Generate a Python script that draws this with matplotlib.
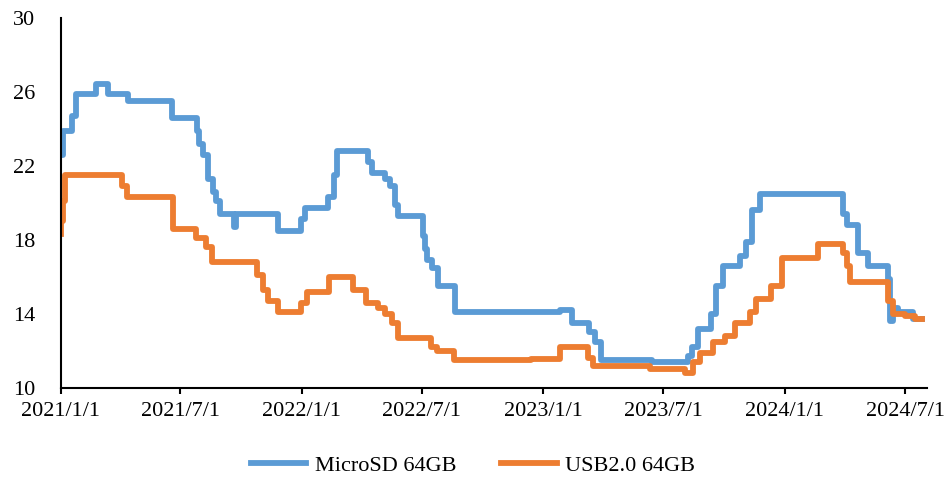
import matplotlib
matplotlib.use("Agg")
import matplotlib.pyplot as plt
import matplotlib.dates as mdates
import pandas as pd

plt.rcParams['font.family'] = ['Liberation Serif', 'DejaVu Serif']

# price change points (step series, value holds until next date)
microsd_dates = [
    "2021-01-01", "2021-01-04", "2021-01-18", "2021-01-24", "2021-02-24", "2021-03-14",
    "2021-04-13", "2021-06-19", "2021-07-26", "2021-07-29", "2021-08-04", "2021-08-12",
    "2021-08-20", "2021-08-24", "2021-08-30", "2021-09-20", "2021-09-23", "2021-11-26",
    "2021-12-31", "2022-01-06", "2022-02-09", "2022-02-19", "2022-02-23", "2022-04-11",
    "2022-04-17", "2022-05-07", "2022-05-14", "2022-05-22", "2022-05-26", "2022-07-03",
    "2022-07-06", "2022-07-09", "2022-07-17", "2022-07-26", "2022-08-20", "2023-01-26",
    "2023-02-13", "2023-03-11", "2023-03-20", "2023-03-29", "2023-06-14", "2023-08-08",
    "2023-08-14", "2023-08-23", "2023-09-12", "2023-09-19", "2023-09-30", "2023-10-25",
    "2023-11-04", "2023-11-13", "2023-11-25", "2024-03-29", "2024-04-04", "2024-04-21",
    "2024-05-05", "2024-06-05", "2024-06-08", "2024-06-13", "2024-06-20", "2024-07-13",
    "2024-07-26",
]
microsd_vals = [
    22.6, 23.9, 24.7, 25.9, 26.4, 25.9,
    25.5, 24.6, 23.9, 23.2, 22.6, 21.3,
    20.6, 20.1, 19.4, 18.7, 19.4, 18.5,
    19.1, 19.7, 20.3, 21.5, 22.8, 22.2,
    21.6, 21.3, 20.9, 19.9, 19.3, 18.2,
    17.5, 16.9, 16.5, 15.5, 14.1, 14.2,
    13.5, 13.0, 12.5, 11.5, 11.4, 11.7,
    12.2, 13.2, 14.0, 15.5, 16.6, 17.1,
    17.9, 19.6, 20.5, 19.4, 18.8, 17.3,
    16.6, 15.9, 13.6, 14.3, 14.1, 13.7,
    13.7,
]

usb_dates = [
    "2021-01-01", "2021-01-02", "2021-01-05", "2021-01-08", "2021-04-04", "2021-04-12",
    "2021-06-20", "2021-07-25", "2021-08-09", "2021-08-18", "2021-10-25", "2021-11-03",
    "2021-11-11", "2021-11-26", "2021-12-31", "2022-01-09", "2022-02-11", "2022-03-19",
    "2022-04-08", "2022-04-26", "2022-05-07", "2022-05-17", "2022-05-26", "2022-07-15",
    "2022-07-24", "2022-08-19", "2022-12-13", "2023-01-26", "2023-03-10", "2023-03-17",
    "2023-06-11", "2023-08-03", "2023-08-15", "2023-08-26", "2023-09-15", "2023-10-03",
    "2023-10-18", "2023-11-10", "2023-11-19", "2023-12-11", "2023-12-28", "2024-02-20",
    "2024-03-29", "2024-04-04", "2024-04-09", "2024-06-05", "2024-06-13", "2024-07-01",
    "2024-07-16", "2024-07-26",
]
usb_vals = [
    18.3, 19.0, 20.1, 21.5, 20.9, 20.3,
    18.6, 18.1, 17.6, 16.8, 16.1, 15.3,
    14.7, 14.1, 14.6, 15.2, 16.0, 15.3,
    14.6, 14.3, 14.0, 13.5, 12.7, 12.2,
    12.0, 11.5, 11.55, 12.2, 11.6, 11.2,
    11.0, 10.8, 11.4, 11.9, 12.5, 12.8,
    13.5, 14.1, 14.8, 15.5, 17.0, 17.8,
    17.3, 16.6, 15.7, 14.7, 14.0, 13.9,
    13.7, 13.7,
]

x_ticks = ["2021-01-01", "2021-07-01", "2022-01-01", "2022-07-01",
           "2023-01-01", "2023-07-01", "2024-01-01", "2024-07-01"]
y_ticks = [10, 14, 18, 22, 26, 30]

fig = plt.figure(figsize=(9.46, 4.8), dpi=100)
ax = fig.add_axes([0.064, 0.192, 0.916, 0.771])

ax.step(pd.to_datetime(microsd_dates), microsd_vals, where='post',
        color='#5B9BD5', lw=4.2, label='MicroSD 64GB')
ax.step(pd.to_datetime(usb_dates), usb_vals, where='post',
        color='#ED7D31', lw=4.2, label='USB2.0 64GB')

ax.set_xlim(pd.Timestamp("2021-01-01"), pd.Timestamp("2024-08-03"))
ax.set_ylim(10, 30)
ax.set_yticks(y_ticks)
ax.set_xticks(pd.to_datetime(x_ticks))
ax.xaxis.set_major_formatter(
    matplotlib.ticker.FuncFormatter(
        lambda v, p: "{0}/{1}/{2}".format(*[getattr(mdates.num2date(v), k) for k in ("year", "month", "day")])))

for s in ("top", "right"):
    ax.spines[s].set_visible(False)
for s in ("left", "bottom"):
    ax.spines[s].set_linewidth(1.5)

ax.tick_params(axis='y', length=0, pad=18, labelsize=16)
ax.tick_params(axis='x', length=4, width=1.5, direction='out', pad=6, labelsize=16)

fig.legend(loc='center', bbox_to_anchor=(0.5, 0.03), ncol=2, frameon=False,
           fontsize=16, handlelength=2.5, columnspacing=2.0, handletextpad=0.4)

fig.savefig("out.png", dpi=100)
